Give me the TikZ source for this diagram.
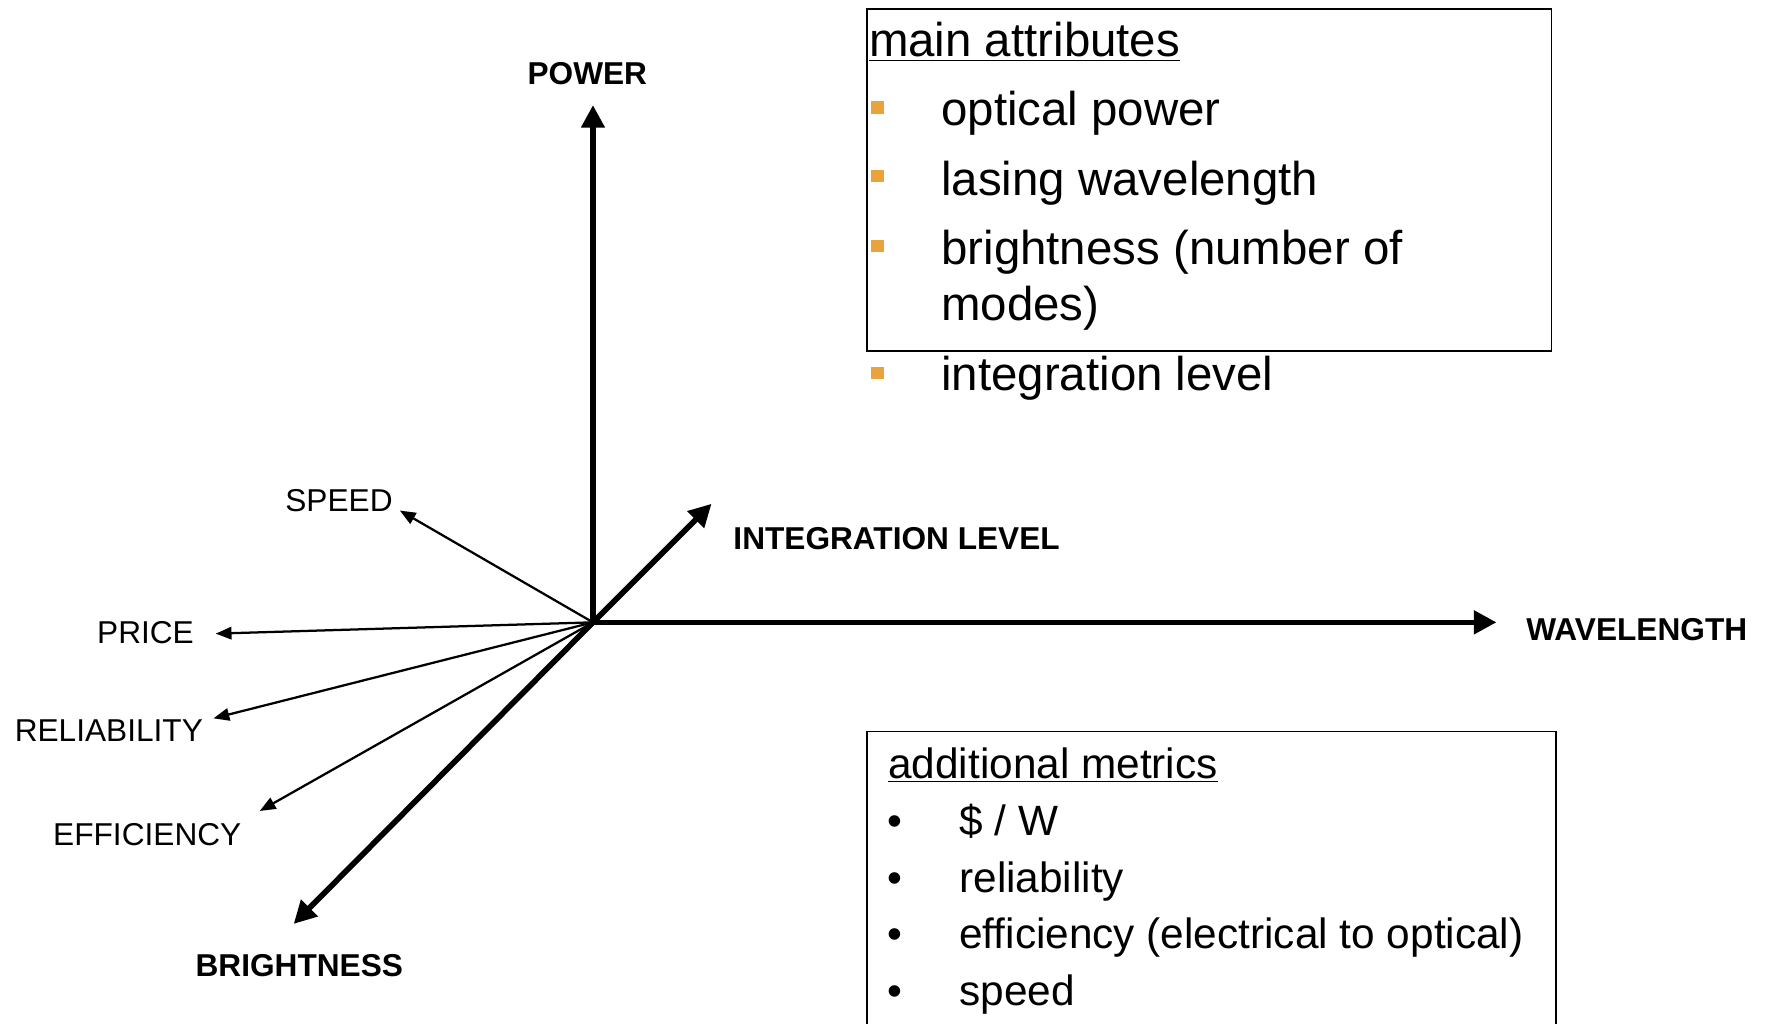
\documentclass[tikz,border=0pt]{standalone}
\usepackage{fontspec}
\setmainfont{Liberation Sans}
\usetikzlibrary{arrows.meta}
\definecolor{bulletorange}{RGB}{232,163,61}

\begin{document}
\begin{tikzpicture}[x=0.5pt,y=-0.5pt,
axis/.style={line width=2.5pt,-{Triangle[length=10pt,width=10pt]}},
metric/.style={line width=1pt,-{Triangle[length=7pt,width=5.5pt]}},
axislabel/.style={inner sep=0pt,font=\fontsize{14}{16}\selectfont\bfseries},
metriclabel/.style={inner sep=0pt,anchor=east,font=\fontsize{14}{16}\selectfont},
bigitem/.style={anchor=base west,inner sep=0pt,align=left,font=\fontsize{21}{25}\selectfont},
smallitem/.style={anchor=base west,inner sep=0pt,font=\fontsize{18.75}{25}\selectfont},
sq/.style={fill=bulletorange,minimum size=5.5pt,inner sep=0pt},
dot/.style={anchor=base,inner sep=0pt,font=\fontsize{18.75}{25}\selectfont}]
\useasboundingbox (0,0) rectangle (1568,906);
% axes
\coordinate (O) at (525,551);
\coordinate (powertip) at (525,93);
\coordinate (wavetip) at (1325,551);
\coordinate (integtip) at (630,446);
\coordinate (brighttip) at (260,818);
\draw[axis] (O) -- (powertip);
\draw[axis] (O) -- (wavetip);
\draw[axis] (O) -- (integtip);
\draw[axis] (O) -- (brighttip);
\node[axislabel] (power) at (520,65) {POWER};
\node[axislabel,anchor=west] (wave) at (1351,557) {WAVELENGTH};
\node[axislabel,anchor=west] (integ) at (649,477) {INTEGRATION LEVEL};
\node[axislabel] (bright) at (265,855) {BRIGHTNESS};
% thin metrics
\coordinate (speedtip) at (354,452);
\coordinate (pricetip) at (191,561);
\coordinate (reltip) at (189,636);
\coordinate (efftip) at (230,718);
\draw[metric] (O) -- (speedtip);
\draw[metric] (O) -- (pricetip);
\draw[metric] (O) -- (reltip);
\draw[metric] (O) -- (efftip);
\node[metriclabel] (speed) at (348,443) {SPEED};
\node[metriclabel] (price) at (172,560) {PRICE};
\node[metriclabel] (rel) at (180,647) {RELIABILITY};
\node[metriclabel] (eff) at (214,739) {EFFICIENCY};
% main attributes box
\node[draw,line width=0.75pt,anchor=north west,minimum width=303pt,minimum height=151.5pt] (mainbox) at (767,7) {};
\node[bigitem] (mainhead) at (769,50) {\underline{main attributes}};
\node[sq] (b1) at (777,95) {};
\node[sq] (b2) at (777,156) {};
\node[sq] (b3) at (777,218) {};
\node[sq] (b4) at (777,330) {};
\node[bigitem] (i1) at (833,111) {optical power};
\node[bigitem] (i2) at (833,173) {lasing wavelength};
\node[bigitem] (i3) at (833,284) {brightness (number of\\modes)};
\node[bigitem] (i4) at (833,346) {integration level};
% additional metrics box
\node[draw,line width=0.75pt,anchor=north west,minimum width=305pt,minimum height=141.5pt] (addbox) at (767,647) {};
\node[smallitem] (addhead) at (786,689) {\underline{additional metrics}};
\node[dot] (d1) at (792,740) {\textbullet};
\node[dot] (d2) at (792,790) {\textbullet};
\node[dot] (d3) at (792,840) {\textbullet};
\node[dot] (d4) at (792,890) {\textbullet};
\node[smallitem] (m1) at (849,740) {\$ / W};
\node[smallitem] (m2) at (849,790) {reliability};
\node[smallitem] (m3) at (849,840) {efficiency (electrical to optical)};
\node[smallitem] (m4) at (849,890) {speed};
\end{tikzpicture}
\end{document}
